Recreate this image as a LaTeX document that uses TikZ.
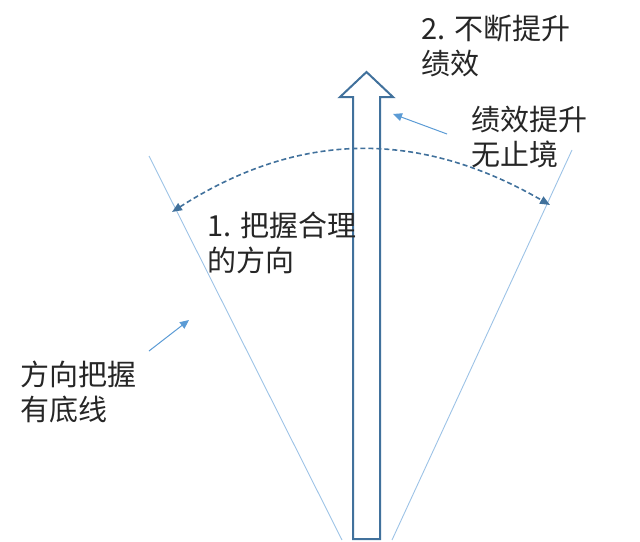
\documentclass[tikz,border=0pt]{standalone}
\usepackage{fontspec}
\setmainfont{Noto Sans CJK SC}
\usetikzlibrary{arrows.meta}
\definecolor{thinblue}{HTML}{9DC3E6}
\definecolor{darkblue}{HTML}{41719C}
\definecolor{midblue}{HTML}{5B9BD5}
\tikzset{
  px/.style={x=1pt,y=-1pt},
  guide/.style={draw=thinblue, line width=0.9pt},
  blockarrow/.style={draw=darkblue, line width=2pt, fill=white, line join=miter},
  dasharc/.style={draw=darkblue, line width=1.6pt, dash pattern=on 5pt off 3pt,
    {Triangle[length=10pt,width=8pt]}-{Triangle[length=10pt,width=8pt]}},
  pointer/.style={draw=midblue, line width=1pt, -{Triangle[length=9pt,width=8pt]}},
  label/.style={anchor=north west, inner sep=0pt, align=left,
    font=\fontsize{29}{35}\selectfont, text=black!85}
}
\begin{document}
\begin{tikzpicture}[px]
\useasboundingbox (0,0) rectangle (640,541);
% guide lines
\coordinate (l1) at (149,156);
\coordinate (l2) at (342,540);
\coordinate (r1) at (572,150);
\coordinate (r2) at (392,540);
\draw[guide] (l1) -- (l2);
\draw[guide] (r1) -- (r2);
% block arrow
\draw[blockarrow] (353,539) -- (353,97) -- (340,97) -- (366.5,72) -- (393,97) -- (380,97) -- (380,539) -- cycle;
% dashed arc
\coordinate (a1) at (172,212);
\coordinate (a2) at (550,205);
\draw[dasharc] (a1) .. controls (300,130) and (420,130) .. (a2);
% pointers
\coordinate (p1s) at (149,351);
\coordinate (p1e) at (189,320);
\coordinate (p2s) at (447,134);
\coordinate (p2e) at (393,114);
\draw[pointer] (p1s) -- (p1e);
\draw[pointer] (p2s) -- (p2e);
% labels
\node[label] (t2) at (421,15) {2. 不断提升\\绩效};
\node[label] (t3) at (471,106) {绩效提升\\无止境};
\node[label] (t1) at (207,212) {1. 把握合理\\的方向};
\node[label] (t4) at (20,361) {方向把握\\有底线};
\end{tikzpicture}
\end{document}
